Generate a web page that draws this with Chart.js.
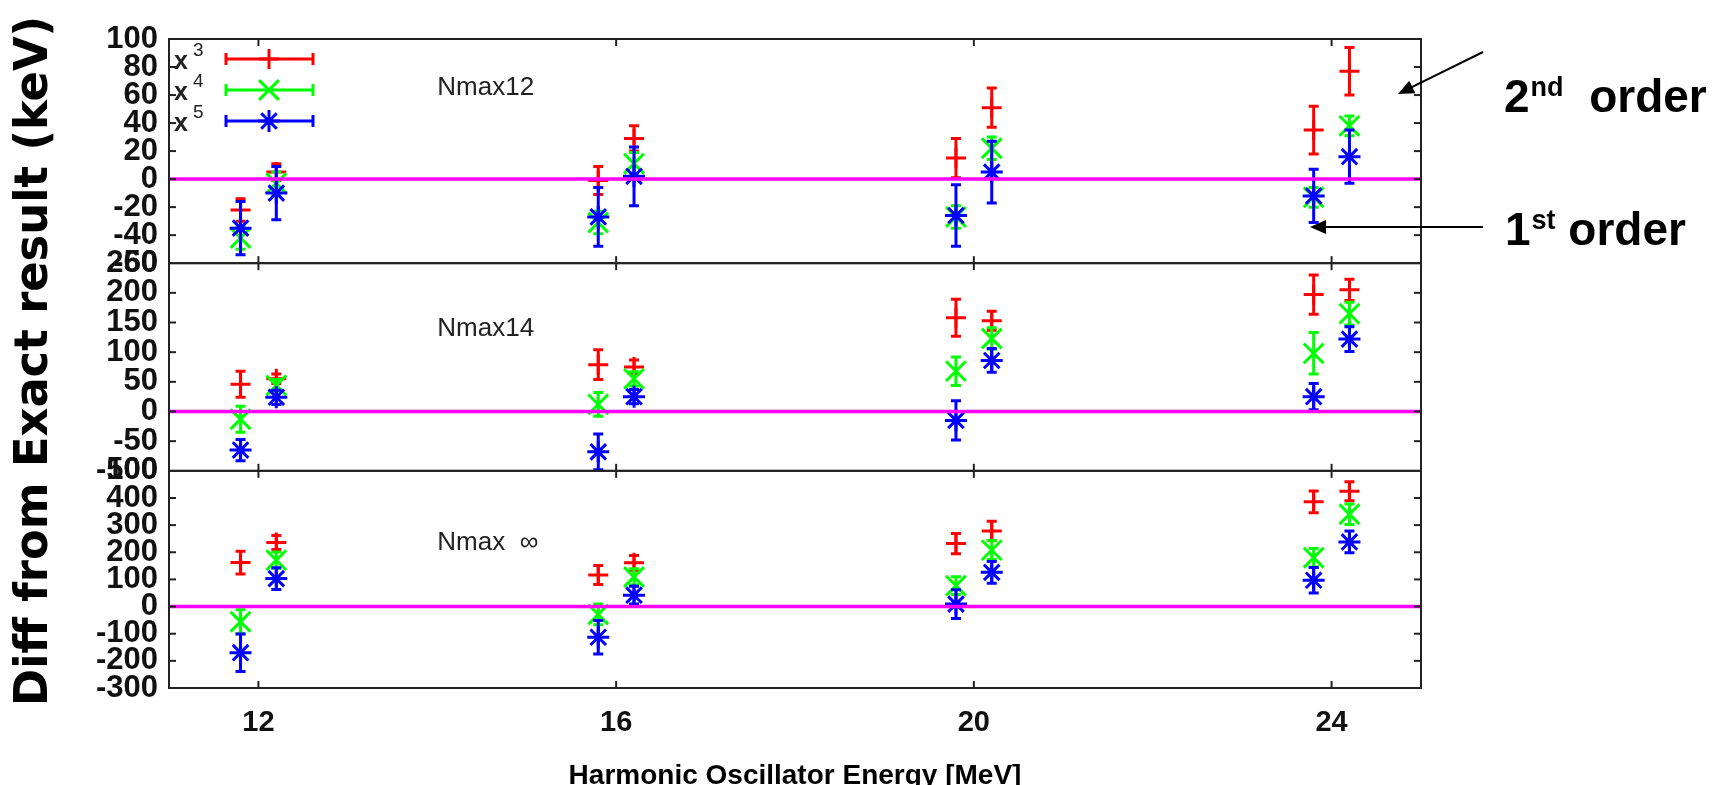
<!DOCTYPE html>
<html lang="en">
<head>
<meta charset="UTF-8" />
<title>Diff from Exact result</title>
<script src="https://cdn.jsdelivr.net/npm/chart.js"></script>
<style>
  body { margin: 0; background: #fff; }
  #wrap { width: 1729px; height: 785px; position: relative; }
</style>
</head>
<body>
<div id="wrap"><canvas id="diff-chart"></canvas></div>
<script>
// each energy has two runs side by side (1st order left, 2nd order right)
const energies = [12, 16, 20, 24];
const xPos = [11.8, 12.2, 15.8, 16.2, 19.8, 20.2, 23.8, 24.2];

const panelNames = ["Nmax12", "Nmax14", "Nmax  \u221e"];
const seriesBase = ["x", "x", "x"];
const seriesPow = ["3", "4", "5"];
const seriesColors = ["#ff0000", "#00ff00", "#0000ff"];
const seriesStyles = ["cross", "crossRot", "star"];
const seriesRadius = [10, 14, 11];

// tick labels per panel, top to bottom
const yTicksNmax12 = [100, 80, 60, 40, 20, 0, -20, -40, -60];
const yTicksNmax14 = [250, 200, 150, 100, 50, 0, -50, -100];
const yTicksNmaxInf = [500, 400, 300, 200, 100, 0, -100, -200, -300];

// Nmax12 (keV)
const x3Nmax12 = [-22, 5, -1, 29, 15, 51, 35, 77];
const x3Nmax12Err = [8, 6, 10, 9, 14, 14, 17, 17];
const x4Nmax12 = [-42, -3, -31, 11, -27, 22, -13, 38];
const x4Nmax12Err = [8, 8, 8, 8, 8, 8, 7, 7];
const x5Nmax12 = [-35, -10, -27, 2, -26, 5, -12, 16];
const x5Nmax12Err = [19, 19, 21, 21, 22, 22, 19, 19];

// Nmax14 (keV)
const x3Nmax14 = [46, 55, 79, 75, 158, 153, 197, 205];
const x3Nmax14Err = [22, 8, 25, 12, 31, 16, 33, 18];
const x4Nmax14 = [-13, 44, 12, 55, 68, 123, 98, 165];
const x4Nmax14Err = [22, 10, 20, 12, 24, 18, 35, 19];
const x5Nmax14 = [-65, 24, -68, 25, -15, 86, 25, 122];
const x5Nmax14Err = [18, 12, 30, 12, 33, 20, 22, 21];

// Nmax infinity (keV)
const x3NmaxInf = [162, 236, 116, 161, 232, 278, 386, 425];
const x3NmaxInfErr = [42, 26, 35, 27, 37, 36, 40, 35];
const x4NmaxInf = [-56, 171, -29, 109, 77, 208, 180, 340];
const x4NmaxInfErr = [44, 30, 38, 30, 33, 35, 34, 38];
const x5NmaxInf = [-170, 103, -113, 42, 9, 126, 97, 238];
const x5NmaxInfErr = [69, 40, 62, 33, 53, 40, 47, 40];

const panels = [
  { id: "yA", ticks: yTicksNmax12, vals: [x3Nmax12, x4Nmax12, x5Nmax12], errs: [x3Nmax12Err, x4Nmax12Err, x5Nmax12Err], labelAt: [14, 65] },
  { id: "yB", ticks: yTicksNmax14, vals: [x3Nmax14, x4Nmax14, x5Nmax14], errs: [x3Nmax14Err, x4Nmax14Err, x5Nmax14Err], labelAt: [14, 140] },
  { id: "yC", ticks: yTicksNmaxInf, vals: [x3NmaxInf, x4NmaxInf, x5NmaxInf], errs: [x3NmaxInfErr, x4NmaxInfErr, x5NmaxInfErr], labelAt: [14, 233] },
];

const datasets = [];
panels.forEach((p) => {
  p.vals.forEach((vals, s) => {
    datasets.push({
      label: seriesBase[s] + seriesPow[s],
      yAxisID: p.id,
      data: vals.map((v, i) => ({ x: xPos[i], y: v })),
      errors: p.errs[s],
      borderColor: seriesColors[s],
      backgroundColor: seriesColors[s],
      pointStyle: seriesStyles[s],
      pointRadius: seriesRadius[s],
      pointBorderWidth: 3,
      order: 2 - s,
    });
  });
});

const tickFont = { family: "'Liberation Sans', Arial, sans-serif", size: 31, weight: "bold" };

function yScale(p, weight) {
  return {
    type: "linear",
    position: "left",
    stack: "panels",
    stackWeight: weight,
    min: p.ticks[p.ticks.length - 1],
    max: p.ticks[0],
    grid: { display: false, drawTicks: false },
    border: { display: false },
    afterBuildTicks: (scale) => { scale.ticks = p.ticks.map((v) => ({ value: v })); },
    afterFit: (scale) => { scale.width = 169; },
    ticks: { autoSkip: false, padding: 11, color: "#111", font: tickFont, callback: (v) => String(v) },
  };
}

// vertical error bars, drawn just under each dataset's markers
const errorBars = {
  id: "errorBars",
  beforeDatasetDraw(chart, args) {
    const ds = chart.data.datasets[args.index];
    const ys = chart.scales[ds.yAxisID];
    const ctx = chart.ctx;
    ctx.save();
    ctx.strokeStyle = ds.borderColor;
    ctx.lineWidth = 3;
    args.meta.data.forEach((pt, i) => {
      const v = ds.data[i].y, e = ds.errors[i];
      const top = ys.getPixelForValue(v + e), bot = ys.getPixelForValue(v - e);
      ctx.beginPath();
      ctx.moveTo(pt.x, top); ctx.lineTo(pt.x, bot);
      ctx.moveTo(pt.x - 5, top); ctx.lineTo(pt.x + 5, top);
      ctx.moveTo(pt.x - 5, bot); ctx.lineTo(pt.x + 5, bot);
      ctx.stroke();
    });
    ctx.restore();
  },
};

function arrow(ctx, x0, y0, x1, y1) {
  const ang = Math.atan2(y1 - y0, x1 - x0);
  ctx.beginPath();
  ctx.moveTo(x0, y0);
  ctx.lineTo(x1 - 12 * Math.cos(ang), y1 - 12 * Math.sin(ang));
  ctx.stroke();
  ctx.beginPath();
  ctx.moveTo(x1, y1);
  ctx.lineTo(x1 - 16 * Math.cos(ang) + 7 * Math.sin(ang), y1 - 16 * Math.sin(ang) - 7 * Math.cos(ang));
  ctx.lineTo(x1 - 16 * Math.cos(ang) - 7 * Math.sin(ang), y1 - 16 * Math.sin(ang) + 7 * Math.cos(ang));
  ctx.closePath();
  ctx.fill();
}

function orderLabel(ctx, x, y, num, sup, rest) {
  ctx.font = "bold 46px 'Liberation Sans', Arial, sans-serif";
  ctx.fillText(num, x, y);
  let cx = x + ctx.measureText(num).width + 1;
  ctx.font = "bold 27px 'Liberation Sans', Arial, sans-serif";
  ctx.fillText(sup, cx, y - 16);
  cx += ctx.measureText(sup).width;
  ctx.font = "bold 46px 'Liberation Sans', Arial, sans-serif";
  ctx.fillText(rest, cx, y);
}

const panelFrame = {
  id: "panelFrame",
  afterDatasetsDraw(chart) {
    const { ctx, chartArea: a } = chart;
    ctx.save();
    ctx.strokeStyle = "#ff00ff";
    ctx.lineWidth = 3.5;
    panels.forEach((p) => {
      const y = chart.scales[p.id].getPixelForValue(0);
      ctx.beginPath(); ctx.moveTo(a.left, y); ctx.lineTo(a.right, y); ctx.stroke();
    });
    ctx.restore();
  },
  afterDraw(chart) {
    const { ctx, chartArea: a, scales } = chart;
    const xs = scales.x;
    ctx.save();
    ctx.strokeStyle = "#222";
    ctx.lineWidth = 2;
    const seg = (x0, y0, x1, y1) => { ctx.beginPath(); ctx.moveTo(x0, y0); ctx.lineTo(x1, y1); ctx.stroke(); };
    panels.forEach((p, k) => {
      const s = scales[p.id];
      ctx.strokeRect(a.left, s.top, a.right - a.left, s.bottom - s.top);
      s.ticks.forEach((t) => {
        const y = s.getPixelForValue(t.value);
        if (y <= s.top + 1 || y >= s.bottom - 1) return;
        seg(a.left, y, a.left + 7, y);
        seg(a.right, y, a.right - 7, y);
      });
      xs.ticks.forEach((t) => {
        const x = xs.getPixelForValue(t.value);
        seg(x, s.top, x, s.top + 7);
        seg(x, s.bottom, x, s.bottom - 7);
      });
      // panel name
      ctx.fillStyle = "#222";
      ctx.font = "26px 'Liberation Sans', Arial, sans-serif";
      ctx.textAlign = "left";
      ctx.textBaseline = "middle";
      ctx.fillText(panelNames[k], xs.getPixelForValue(p.labelAt[0]), s.getPixelForValue(p.labelAt[1]));
    });

    // key: label, horizontal bar with end caps and the marker
    seriesBase.forEach((b, s) => {
      const y = a.top + 20 + s * 31;
      ctx.fillStyle = "#222";
      ctx.textAlign = "left";
      ctx.textBaseline = "alphabetic";
      ctx.font = "bold 25px 'Liberation Sans', Arial, sans-serif";
      ctx.fillText(b, a.left + 5, y + 10);
      ctx.font = "19px 'Liberation Sans', Arial, sans-serif";
      ctx.fillText(seriesPow[s], a.left + 24, y - 3);
      ctx.strokeStyle = seriesColors[s];
      ctx.lineWidth = 3;
      seg(a.left + 57, y, a.left + 144, y);
      seg(a.left + 57, y - 6, a.left + 57, y + 6);
      seg(a.left + 144, y - 6, a.left + 144, y + 6);
      Chart.helpers.drawPoint(ctx, { pointStyle: seriesStyles[s], radius: seriesRadius[s], borderWidth: 3 }, a.left + 100, y);
    });

    // titles
    ctx.fillStyle = "#000";
    ctx.textAlign = "center";
    ctx.textBaseline = "alphabetic";
    ctx.font = "bold 28px 'Liberation Sans', Arial, sans-serif";
    ctx.fillText("Harmonic Oscillator Energy [MeV]", (a.left + a.right) / 2, 784, 470);
    ctx.save();
    ctx.translate(35, 361);
    ctx.rotate(-Math.PI / 2);
    ctx.textBaseline = "middle";
    ctx.font = "bold 46px 'DejaVu Sans', sans-serif";
    ctx.fillText("Diff from Exact result (keV)", 0, 0, 690);
    ctx.restore();

    // order annotations
    ctx.textAlign = "left";
    ctx.fillStyle = "#000";
    ctx.strokeStyle = "#000";
    ctx.lineWidth = 2;
    orderLabel(ctx, a.right + 83, 112, "2", "nd", "  order");
    orderLabel(ctx, a.right + 84, 245, "1", "st", " order");
    arrow(ctx, a.right + 62, 52, a.right - 23, 94);
    arrow(ctx, a.right + 62, 227, a.right - 111, 227);
    ctx.restore();
  },
};

new Chart(document.getElementById("diff-chart"), {
  type: "scatter",
  data: { datasets: datasets },
  options: {
    responsive: true,
    maintainAspectRatio: false,
    animation: false,
    layout: { padding: { top: 39, right: 308, bottom: 0, left: 0 } },
    plugins: { legend: { display: false }, tooltip: { enabled: false } },
    scales: {
      x: {
        type: "linear",
        position: "bottom",
        min: 11,
        max: 25,
        grid: { display: false, drawTicks: false },
        border: { display: false },
        afterBuildTicks: (scale) => { scale.ticks = energies.map((v) => ({ value: v })); },
        afterFit: (scale) => { scale.height = 97; },
        ticks: { padding: 18, color: "#111", font: { family: "'Liberation Sans', Arial, sans-serif", size: 29, weight: "bold" } },
      },
      yC: yScale(panels[2], 217),
      yB: yScale(panels[1], 207.5),
      yA: yScale(panels[0], 224),
    },
  },
  plugins: [errorBars, panelFrame],
});
</script>
</body>
</html>
